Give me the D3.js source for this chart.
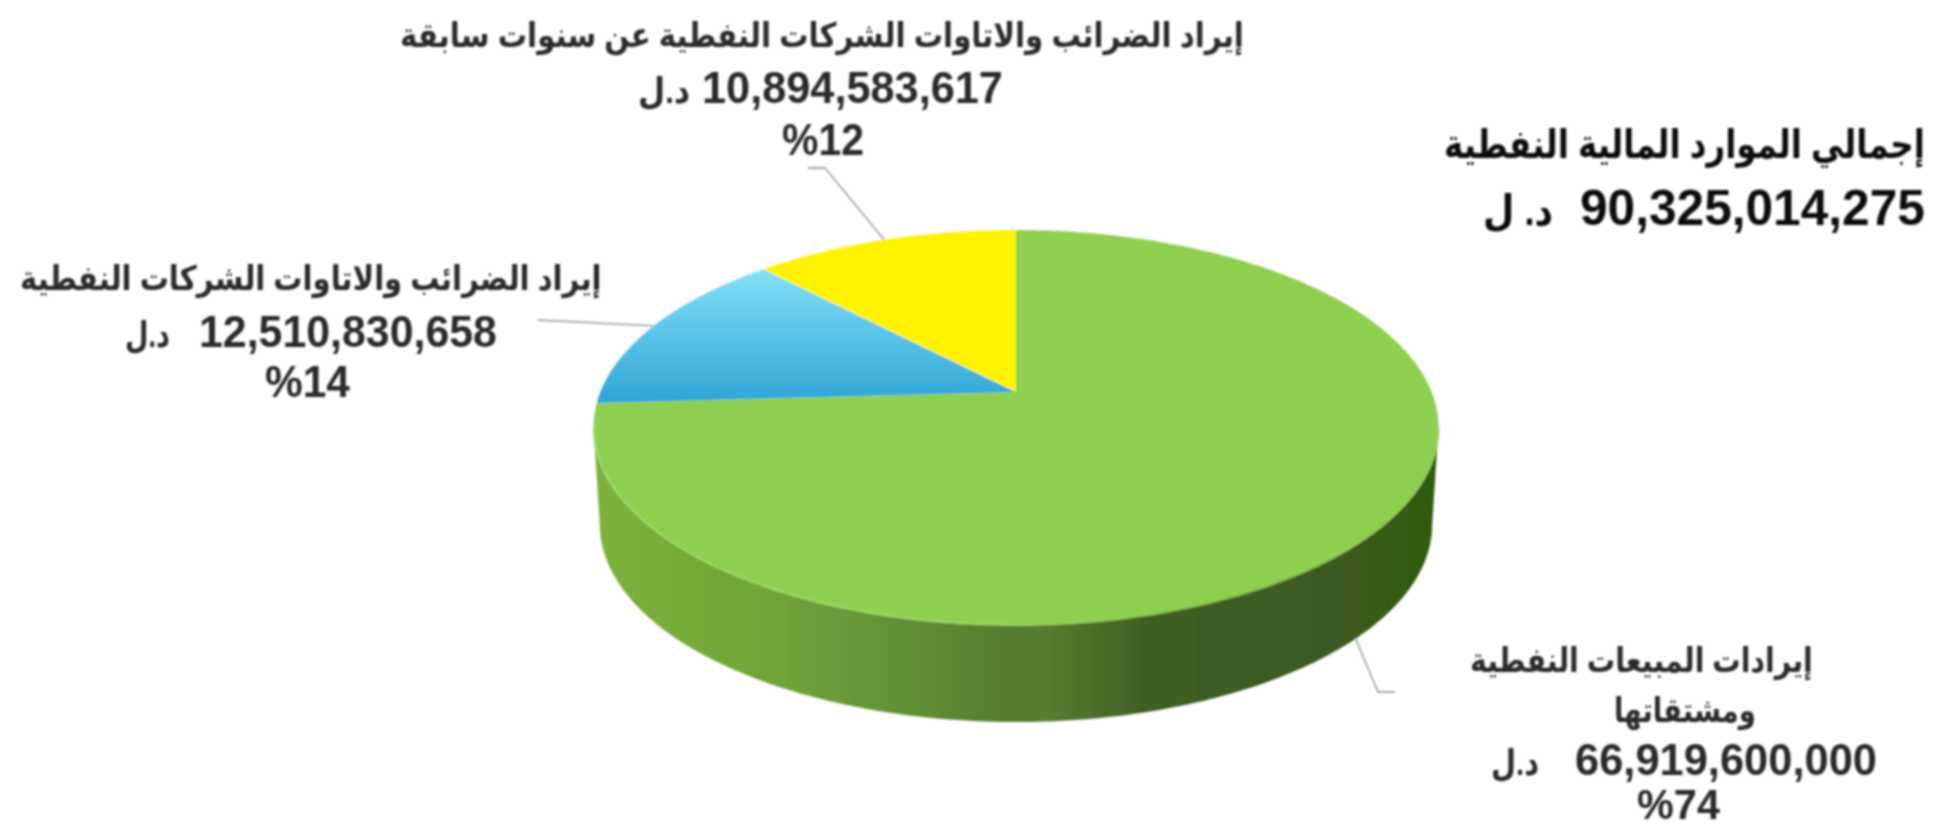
<!DOCTYPE html>
<html lang="ar">
<head>
<meta charset="utf-8">
<title>إجمالي الموارد المالية النفطية</title>
<script src="https://cdn.jsdelivr.net/npm/d3@7"></script>
<style>
  html, body { margin: 0; padding: 0; background: #fff; overflow: hidden; }
  text { font-family: "Liberation Sans", "DejaVu Sans", sans-serif; font-weight: bold; }
</style>
</head>
<body>
<div id="pie-container"></div>
<script>
// data, clockwise from twelve o'clock
const categories = [
  ["إيرادات المبيعات النفطية", "ومشتقاتها"],
  ["إيراد الضرائب والاتاوات الشركات النفطية"],
  ["إيراد الضرائب والاتاوات الشركات النفطية عن سنوات سابقة"],
];
const values = [66919600000, 12510830658, 10894583617];
const percentLabels = ["%74", "%14", "%12"];
const unitLabel = "د.ل";
const totalTitle = "إجمالي الموارد المالية النفطية";
const totalValue = 90325014275;
const totalUnit = "د. ل";

const width = 1933;
const height = 829;
const fmt = d3.format(",");

// the photo of the disc is in perspective, so the apex is not the ellipse centre
const cx = 1016;
const apexY = 392;
const persp = -0.18;
const spanX = 415.6;
const spanY = 120.5;
const depth = 97;
const baseShrink = 0.985;

function project(angle) {
  const u = Math.sin(angle);
  const v = -Math.cos(angle);
  const w = 1 + persp * v;
  return [cx + (spanX * u) / w, (apexY + spanY * v) / w];
}
function projectBase(angle) {
  const p = project(angle);
  return [cx + (p[0] - cx) * baseShrink, p[1] + depth];
}
function sweep(a0, a1) {
  const n = Math.max(2, Math.ceil(Math.abs(a1 - a0) * 60));
  return d3.range(n + 1).map((i) => a0 + ((a1 - a0) * i) / n);
}

const svg = d3
  .select("#pie-container")
  .append("svg")
  .attr("width", width)
  .attr("height", height)
  .style("display", "block");

const defs = svg.append("defs");
defs.append("filter").attr("id", "soft")
  .attr("x", "-5%").attr("y", "-5%").attr("width", "110%").attr("height", "110%")
  .append("feGaussianBlur").attr("stdDeviation", 0.9);
defs.append("filter").attr("id", "softText")
  .attr("filterUnits", "userSpaceOnUse")
  .attr("x", 0).attr("y", 0).attr("width", width).attr("height", height)
  .append("feGaussianBlur").attr("stdDeviation", 0.8);

const blueGrad = defs.append("linearGradient").attr("id", "blueTop")
  .attr("x1", 0).attr("y1", 0).attr("x2", 0).attr("y2", 1);
blueGrad.append("stop").attr("offset", "0%").attr("stop-color", "#84e0f8");
blueGrad.append("stop").attr("offset", "100%").attr("stop-color", "#2ea5d6");

const wallGrad = defs.append("linearGradient").attr("id", "wall")
  .attr("gradientUnits", "userSpaceOnUse")
  .attr("x1", 593).attr("y1", 0).attr("x2", 1438).attr("y2", 0);
[[0, "#7cb23b"], [0.24, "#6ea238"], [0.39, "#5f8d35"], [0.49, "#557d2d"],
 [0.53, "#587d30"], [0.66, "#3f5f22"], [0.88, "#3e5a20"], [1, "#2f5c0c"]]
  .forEach((s) => wallGrad.append("stop").attr("offset", s[0]).attr("stop-color", s[1]));

const rimGrad = defs.append("linearGradient").attr("id", "rim")
  .attr("gradientUnits", "userSpaceOnUse")
  .attr("x1", 593).attr("y1", 0).attr("x2", 1438).attr("y2", 0);
rimGrad.append("stop").attr("offset", "0%").attr("stop-color", "#a6e070");
rimGrad.append("stop").attr("offset", "50%").attr("stop-color", "#a2dc6c");
rimGrad.append("stop").attr("offset", "75%").attr("stop-color", "#7fb548");
rimGrad.append("stop").attr("offset", "100%").attr("stop-color", "#96cf5e");

const sliceFill = ["#8ecf50", "url(#blueTop)", "#fff200"];

const pieGenerator = d3.pie().sort(null).value((d) => d);
const slices = pieGenerator(values);
const line = d3.line();

const pie = svg.append("g").attr("filter", "url(#soft)");

// side wall, between the widest points of the disc on the front side
const edge = Math.acos(persp);
const frontAngles = sweep(edge, Math.PI * 2 - edge);
pie.append("path")
  .attr("d", line(frontAngles.map((a) => project(a)).concat(frontAngles.slice().reverse().map((a) => projectBase(a)))) + "Z")
  .attr("fill", "url(#wall)");

// top of the disc
pie.selectAll("path.slice")
  .data(slices)
  .enter()
  .append("path")
  .attr("class", "slice")
  .attr("d", (d) => line([[cx, apexY]].concat(sweep(d.startAngle, d.endAngle).map((a) => project(a)))) + "Z")
  .attr("fill", (_, i) => sliceFill[i]);

pie.append("path")
  .attr("d", line(frontAngles.map((a) => project(a))))
  .attr("fill", "none")
  .attr("stroke", "url(#rim)")
  .attr("stroke-width", 1.6);

// leader lines run from the middle of each slice, the big slice from its base edge
const mid = (d) => (d.startAngle + d.endAngle) / 2;
const leaderBends = [
  [[1378, 692], [1395, 692]],
  [[538, 320]],
  [[825, 168], [808, 168]],
];
svg.append("g")
  .attr("filter", "url(#softText)")
  .selectAll("path")
  .data(slices)
  .enter()
  .append("path")
  .attr("d", (d, i) => line([i === 0 ? projectBase(mid(d)) : project(mid(d))].concat(leaderBends[i])))
  .attr("fill", "none")
  .attr("stroke", "#aaaaaa")
  .attr("stroke-width", 1.8);

// text: every line is squeezed to fit between its left and right edge
const textRows = [
  { text: categories[2][0], x0: 400, x1: 1244, y: 47, size: 34, fill: "#2b2b2b" },
  { text: fmt(values[2]), x0: 702, x1: 1003, y: 103, size: 44, fill: "#2b2b2b" },
  { text: unitLabel, x0: 638, x1: 690, y: 103, size: 36, fill: "#2b2b2b" },
  { text: percentLabels[2], x0: 782, x1: 864, y: 155, size: 44, fill: "#2b2b2b" },

  { text: categories[1][0], x0: 20, x1: 602, y: 290, size: 34, fill: "#2b2b2b" },
  { text: fmt(values[1]), x0: 199, x1: 497, y: 347, size: 44, fill: "#2b2b2b" },
  { text: unitLabel, x0: 125, x1: 170, y: 347, size: 36, fill: "#2b2b2b" },
  { text: percentLabels[1], x0: 265, x1: 350, y: 397, size: 44, fill: "#2b2b2b" },

  { text: categories[0][0], x0: 1470, x1: 1813, y: 672, size: 34, fill: "#2b2b2b" },
  { text: categories[0][1], x0: 1614, x1: 1756, y: 722, size: 34, fill: "#2b2b2b" },
  { text: fmt(values[0]), x0: 1575, x1: 1877, y: 775, size: 44, fill: "#2b2b2b" },
  { text: unitLabel, x0: 1491, x1: 1539, y: 775, size: 36, fill: "#2b2b2b" },
  { text: percentLabels[0], x0: 1637, x1: 1720, y: 819, size: 42, fill: "#2b2b2b" },

  { text: totalTitle, x0: 1444, x1: 1925, y: 158, size: 40, fill: "#111111" },
  { text: fmt(totalValue), x0: 1580, x1: 1925, y: 225, size: 50, fill: "#111111" },
  { text: totalUnit, x0: 1483, x1: 1553, y: 225, size: 42, fill: "#111111" },
];

svg.append("g")
  .attr("filter", "url(#softText)")
  .selectAll("text")
  .data(textRows)
  .enter()
  .append("text")
  .attr("font-size", (d) => d.size)
  .attr("fill", (d) => d.fill)
  .text((d) => d.text)
  .attr("transform", function (d) {
    const sx = (d.x1 - d.x0) / this.getComputedTextLength();
    return `translate(${d.x0},${d.y}) scale(${sx},1)`;
  });
</script>
</body>
</html>
